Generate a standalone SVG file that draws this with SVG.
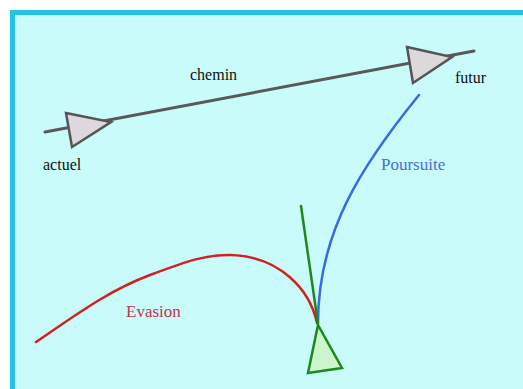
<svg xmlns="http://www.w3.org/2000/svg" width="523" height="389" viewBox="0 0 523 389">
<style>
.lbl{font-family:"Liberation Serif","Times New Roman",serif;font-size:16px}
.tri{fill:#dcd8dc;stroke:#555;stroke-width:2.5;stroke-linejoin:miter}
</style>
<rect x="0" y="0" width="523" height="389" fill="#ffffff"/>
<rect x="12.5" y="12.5" width="530" height="400" fill="#c9fbfb" stroke="#22c4e0" stroke-width="5"/>
<g id="connectors" fill="none" stroke-linecap="round">
<line x1="45" y1="132" x2="474" y2="51" stroke="#595959" stroke-width="3"/>
<path d="M36,342 C80,312 110,290 150,275 C190,260 205,255 230,255 C280,256 310,290 317,323" stroke="#d42020" stroke-width="2.5"/>
<path d="M419,95 C362,165 318,232 318,323" stroke="#3a6ae0" stroke-width="2.5"/>
<line x1="301" y1="206" x2="318" y2="324" stroke="#1a8a1a" stroke-width="2.5"/>
</g>
<g id="actuel">
<polygon class="tri" points="66,113 111,122 72,147"/>
<text class="lbl" x="43" y="170" fill="#111">actuel</text>
</g>
<g id="futur">
<polygon class="tri" points="407,47 452,57 413,83"/>
<text class="lbl" x="455" y="83" fill="#111">futur</text>
</g>
<g id="chemin">
<text class="lbl" x="190" y="80" fill="#111">chemin</text>
</g>
<g id="poursuite">
<text class="lbl" x="381" y="170" fill="#4a6fd0" style="font-size:17px">Poursuite</text>
</g>
<g id="evasion">
<text class="lbl" x="126" y="317" fill="#c8304e" style="font-size:17px">Evasion</text>
</g>
<g id="cible">
<polygon points="318,325 308,373 342,368" fill="#ccf5cc" stroke="#1a8a1a" stroke-width="2.5" stroke-linejoin="miter"/>
</g>
</svg>
